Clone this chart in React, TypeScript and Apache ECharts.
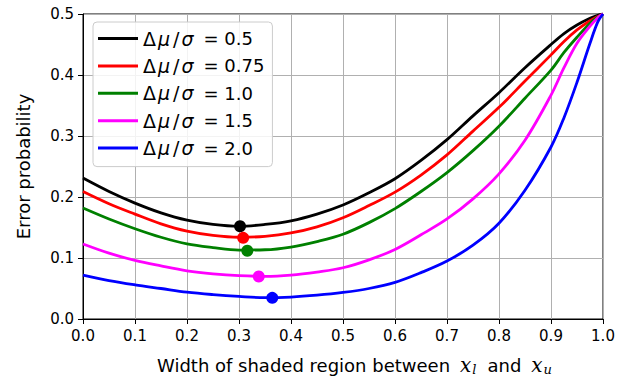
import React, { useEffect, useRef } from "react";
import * as echarts from "echarts";

const widths = [0, 0.05, 0.1, 0.15, 0.2, 0.25, 0.3, 0.35, 0.4, 0.45, 0.5, 0.55, 0.6, 0.65, 0.7, 0.75, 0.8, 0.85, 0.9, 0.925, 0.95, 0.975, 0.99, 1.0];

const ratios = ["0.5", "0.75", "1.0", "1.5", "2.0"];
const colors = ["#000000", "#ff0000", "#008000", "#ff00ff", "#0000ff"];

const err05 = [0.231, 0.209, 0.190, 0.174, 0.162, 0.155, 0.152, 0.155, 0.161, 0.172, 0.187, 0.207, 0.230, 0.260, 0.294, 0.333, 0.371, 0.412, 0.450, 0.468, 0.482, 0.493, 0.498, 0.5];
const err075 = [0.209, 0.189, 0.172, 0.156, 0.144, 0.137, 0.134, 0.1355, 0.141, 0.151, 0.166, 0.186, 0.208, 0.236, 0.269, 0.308, 0.347, 0.390, 0.433, 0.455, 0.474, 0.489, 0.496, 0.5];
const err10 = [0.182, 0.164, 0.148, 0.134, 0.123, 0.117, 0.113, 0.1135, 0.118, 0.127, 0.139, 0.158, 0.181, 0.209, 0.240, 0.276, 0.316, 0.362, 0.408, 0.437, 0.462, 0.485, 0.495, 0.5];
const err15 = [0.123, 0.108, 0.096, 0.087, 0.079, 0.074, 0.071, 0.070, 0.072, 0.077, 0.084, 0.097, 0.114, 0.138, 0.164, 0.197, 0.238, 0.293, 0.367, 0.412, 0.452, 0.480, 0.494, 0.5];
const err20 = [0.072, 0.063, 0.056, 0.050, 0.044, 0.040, 0.037, 0.035, 0.036, 0.039, 0.0435, 0.050, 0.060, 0.076, 0.095, 0.121, 0.157, 0.211, 0.282, 0.330, 0.388, 0.452, 0.487, 0.5];

const minWidths = [0.302, 0.308, 0.316, 0.338, 0.364];
const minErrors = [0.152, 0.133, 0.112, 0.0697, 0.0347];

const xTicks = ["0.0", "0.1", "0.2", "0.3", "0.4", "0.5", "0.6", "0.7", "0.8", "0.9", "1.0"];

const FONT = "DejaVu Sans";

export default function App() {
  const ref = useRef<HTMLDivElement>(null);
  useEffect(() => {
    if (!ref.current) return;
    const chart = echarts.init(ref.current, null, { renderer: "svg" });
    const allErr = [err05, err075, err10, err15, err20];
    const lineSeries = ratios.map((r, i) => ({
      name: r,
      type: "line",
      data: widths.map((w, j) => [w, allErr[i][j]]),
      smooth: 0.35,
      symbol: "none",
      lineStyle: { color: colors[i], width: 2.8 },
      itemStyle: { color: colors[i] },
      z: 3,
    }));
    const dotSeries = ratios.map((r, i) => ({
      name: "min " + r,
      type: "scatter",
      data: [[minWidths[i], minErrors[i]]],
      symbolSize: 12,
      itemStyle: { color: colors[i], opacity: 1 },
      z: 4,
    }));
    const axisCommon = {
      axisLine: { show: true, onZero: false, lineStyle: { color: "#000", width: 1 } },
      axisTick: { show: true, inside: false, length: 5, lineStyle: { color: "#000" } },
      splitLine: { show: true, lineStyle: { color: "#b0b0b0", width: 1 } },
    };
    chart.setOption({
      animation: false,
      backgroundColor: "#fff",
      grid: { left: 83, right: 31, top: 14, bottom: 62, show: true, borderColor: "#000", borderWidth: 1, backgroundColor: "transparent" },
      legend: {
        show: true,
        data: ratios,
        orient: "vertical",
        left: 93,
        top: 22,
        padding: [7, 8, 9, 5],
        itemWidth: 40,
        itemHeight: 3,
        itemGap: 8.4,
        icon: "rect",
        backgroundColor: "rgba(255,255,255,0.85)",
        borderColor: "#cccccc",
        borderWidth: 1,
        borderRadius: 4,
        formatter: (name: string) => `{d|Δ}{i|μ}{sl|/}{sg|σ}{n|= ${name}}`,
        textStyle: {
          fontFamily: FONT,
          fontSize: 18,
          color: "#000",
          rich: {
            d: { fontFamily: FONT, fontSize: 19, color: "#000", lineHeight: 22, padding: [0, 2, 0, 0] },
            i: { fontFamily: FONT, fontSize: 19, fontStyle: "italic", color: "#000", lineHeight: 22, padding: [0, 2, 0, 0] },
            sl: { fontFamily: FONT, fontSize: 19, color: "#000", lineHeight: 22, padding: [0, 2, 0, 1] },
            sg: { fontFamily: FONT, fontSize: 19, fontStyle: "italic", color: "#000", lineHeight: 22, padding: [0, 10, 0, 0] },
            n: { fontFamily: FONT, fontSize: 18, color: "#000", lineHeight: 22 },
          },
        },
      },
      xAxis: {
        type: "value",
        min: 0,
        max: 1,
        interval: 0.1,
        ...axisCommon,
        axisLabel: {
          fontFamily: FONT,
          fontSize: 15,
          color: "#000",
          margin: 9,
          formatter: (v: number) => xTicks[Math.round(v * 10)],
        },
        name: "{t|Width of shaded region between}{i|x}{s|l}{t|and}{i|x}{s|u}",
        nameLocation: "middle",
        nameGap: 35,
        nameTextStyle: {
          fontFamily: FONT,
          fontSize: 18,
          color: "#000",
          padding: [0, 0, 0, 34],
          rich: {
            t: { fontFamily: FONT, fontSize: 18, color: "#000", lineHeight: 22 },
            i: { fontFamily: "DejaVu Serif", fontSize: 20, fontStyle: "italic", color: "#000", lineHeight: 22, padding: [0, 0, 0, 10] },
            s: { fontFamily: "DejaVu Serif", fontSize: 13, fontStyle: "italic", color: "#000", verticalAlign: "bottom", lineHeight: 13, padding: [0, 11, 0, 1] },
          },
        },
      },
      yAxis: {
        type: "value",
        min: 0,
        max: 0.5,
        interval: 0.1,
        ...axisCommon,
        axisLabel: {
          fontFamily: FONT,
          fontSize: 15,
          color: "#000",
          margin: 9,
          formatter: (v: number) => v.toFixed(1),
        },
        name: "Error probability",
        nameLocation: "middle",
        nameGap: 51,
        nameTextStyle: { fontFamily: FONT, fontSize: 18, color: "#000" },
      },
      series: [...lineSeries, ...dotSeries],
    });
    return () => chart.dispose();
  }, []);
  return (
    <div
      ref={ref}
      style={{ position: "fixed", left: 0, top: 0, width: 634, height: 381, background: "#fff" }}
    />
  );
}
